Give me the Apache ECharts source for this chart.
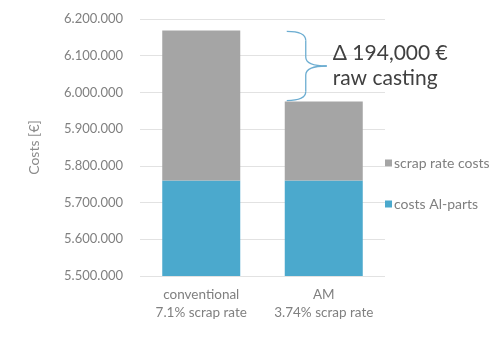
<!DOCTYPE html>
<html>
<head>
<meta charset="utf-8">
<script src="https://cdn.jsdelivr.net/npm/echarts@6/dist/echarts.min.js"></script>
<style>
  html, body { margin: 0; padding: 0; background: #fff; }
  #chart { width: 502px; height: 351px; }
</style>
</head>
<body>
<div id="chart"></div>
<script>
const categories = ['conventional\n7.1% scrap rate', 'AM\n3.74% scrap rate']
const alPartsCosts = [5760000, 5760000]
const scrapCosts = [409000, 215000]
const deltaText = ['Δ 194,000 €', 'raw casting']

const FONT = 'Lato'
const GREY = '#a5a5a5'
const BLUE = '#4ba9cd'

// 6200000 -> 6.200.000
function fmt(v) {
  return String(v).replace(/\B(?=(\d{3})+(?!\d))/g, '.')
}

const chart = echarts.init(document.getElementById('chart'))
chart.setOption({
  animation: false,
  textStyle: { fontFamily: FONT },
  grid: { left: 140, right: 117, top: 19, bottom: 75, containLabel: false },
  legend: {
    orient: 'vertical',
    left: 380,
    top: 151,
    itemWidth: 7,
    itemHeight: 7,
    itemGap: 27,
    icon: 'rect',
    data: ['scrap rate costs', 'costs Al-parts'],
    textStyle: { color: '#7f7f7f', fontSize: 14, fontFamily: FONT, padding: [0, 0, 0, -3] },
  },
  xAxis: {
    type: 'category',
    data: categories,
    axisLine: { show: false },
    axisTick: { show: false },
    axisLabel: { color: '#808080', fontSize: 13.5, lineHeight: 18, margin: 10, interval: 0 },
  },
  yAxis: {
    type: 'value',
    min: 5500000,
    max: 6200000,
    interval: 100000,
    name: 'Costs [€]',
    nameLocation: 'middle',
    nameGap: 99,
    nameTextStyle: { color: '#8c8c8c', fontSize: 14 },
    axisLabel: { color: '#808080', fontSize: 13, margin: 17, formatter: fmt },
    splitLine: { lineStyle: { color: '#e2e2e2' } },
  },
  series: [
    {
      name: 'costs Al-parts',
      type: 'bar',
      stack: 'cost',
      data: alPartsCosts,
      barWidth: 78,
      itemStyle: { color: BLUE },
    },
    {
      name: 'scrap rate costs',
      type: 'bar',
      stack: 'cost',
      data: scrapCosts,
      barWidth: 78,
      itemStyle: { color: GREY },
    },
  ],
})

// curly brace between the two bar tops, placed through the axis scales
const totals = alPartsCosts.map((v, i) => v + scrapCosts[i])
const pTop = chart.convertToPixel({ seriesIndex: 0 }, [1, totals[0]])
const pBot = chart.convertToPixel({ seriesIndex: 0 }, [1, totals[1]])
const x0 = pTop[0] - 37
const xm = x0 + 19
const xt = x0 + 40
const yT = pTop[1] + 1
const yB = pBot[1] - 1
const yM = (yT + yB) / 2
const r = 9
const braceStyle = { fill: null, stroke: '#6cadd1', lineWidth: 1.3 }

function curve(x1, y1, cx, cy, x2, y2) {
  return { type: 'bezierCurve', shape: { x1, y1, cpx1: cx, cpy1: cy, x2, y2 }, style: braceStyle }
}
function seg(x1, y1, x2, y2) {
  return { type: 'line', shape: { x1, y1, x2, y2 }, style: braceStyle }
}

chart.setOption({
  graphic: [
    curve(x0, yT, xm, yT, xm, yT + r),
    seg(xm, yT + r, xm, yM - r),
    curve(xm, yM - r, xm, yM, xt, yM),
    curve(xt, yM, xm, yM, xm, yM + r),
    seg(xm, yM + r, xm, yB - r),
    curve(xm, yB - r, xm, yB, x0, yB),
    {
      type: 'text',
      x: xt + 6,
      y: yM,
      style: {
        text: deltaText.join('\n'),
        fill: '#404040',
        font: '21px ' + FONT,
        lineHeight: 25,
        verticalAlign: 'middle',
      },
    },
  ],
})
</script>
</body>
</html>
